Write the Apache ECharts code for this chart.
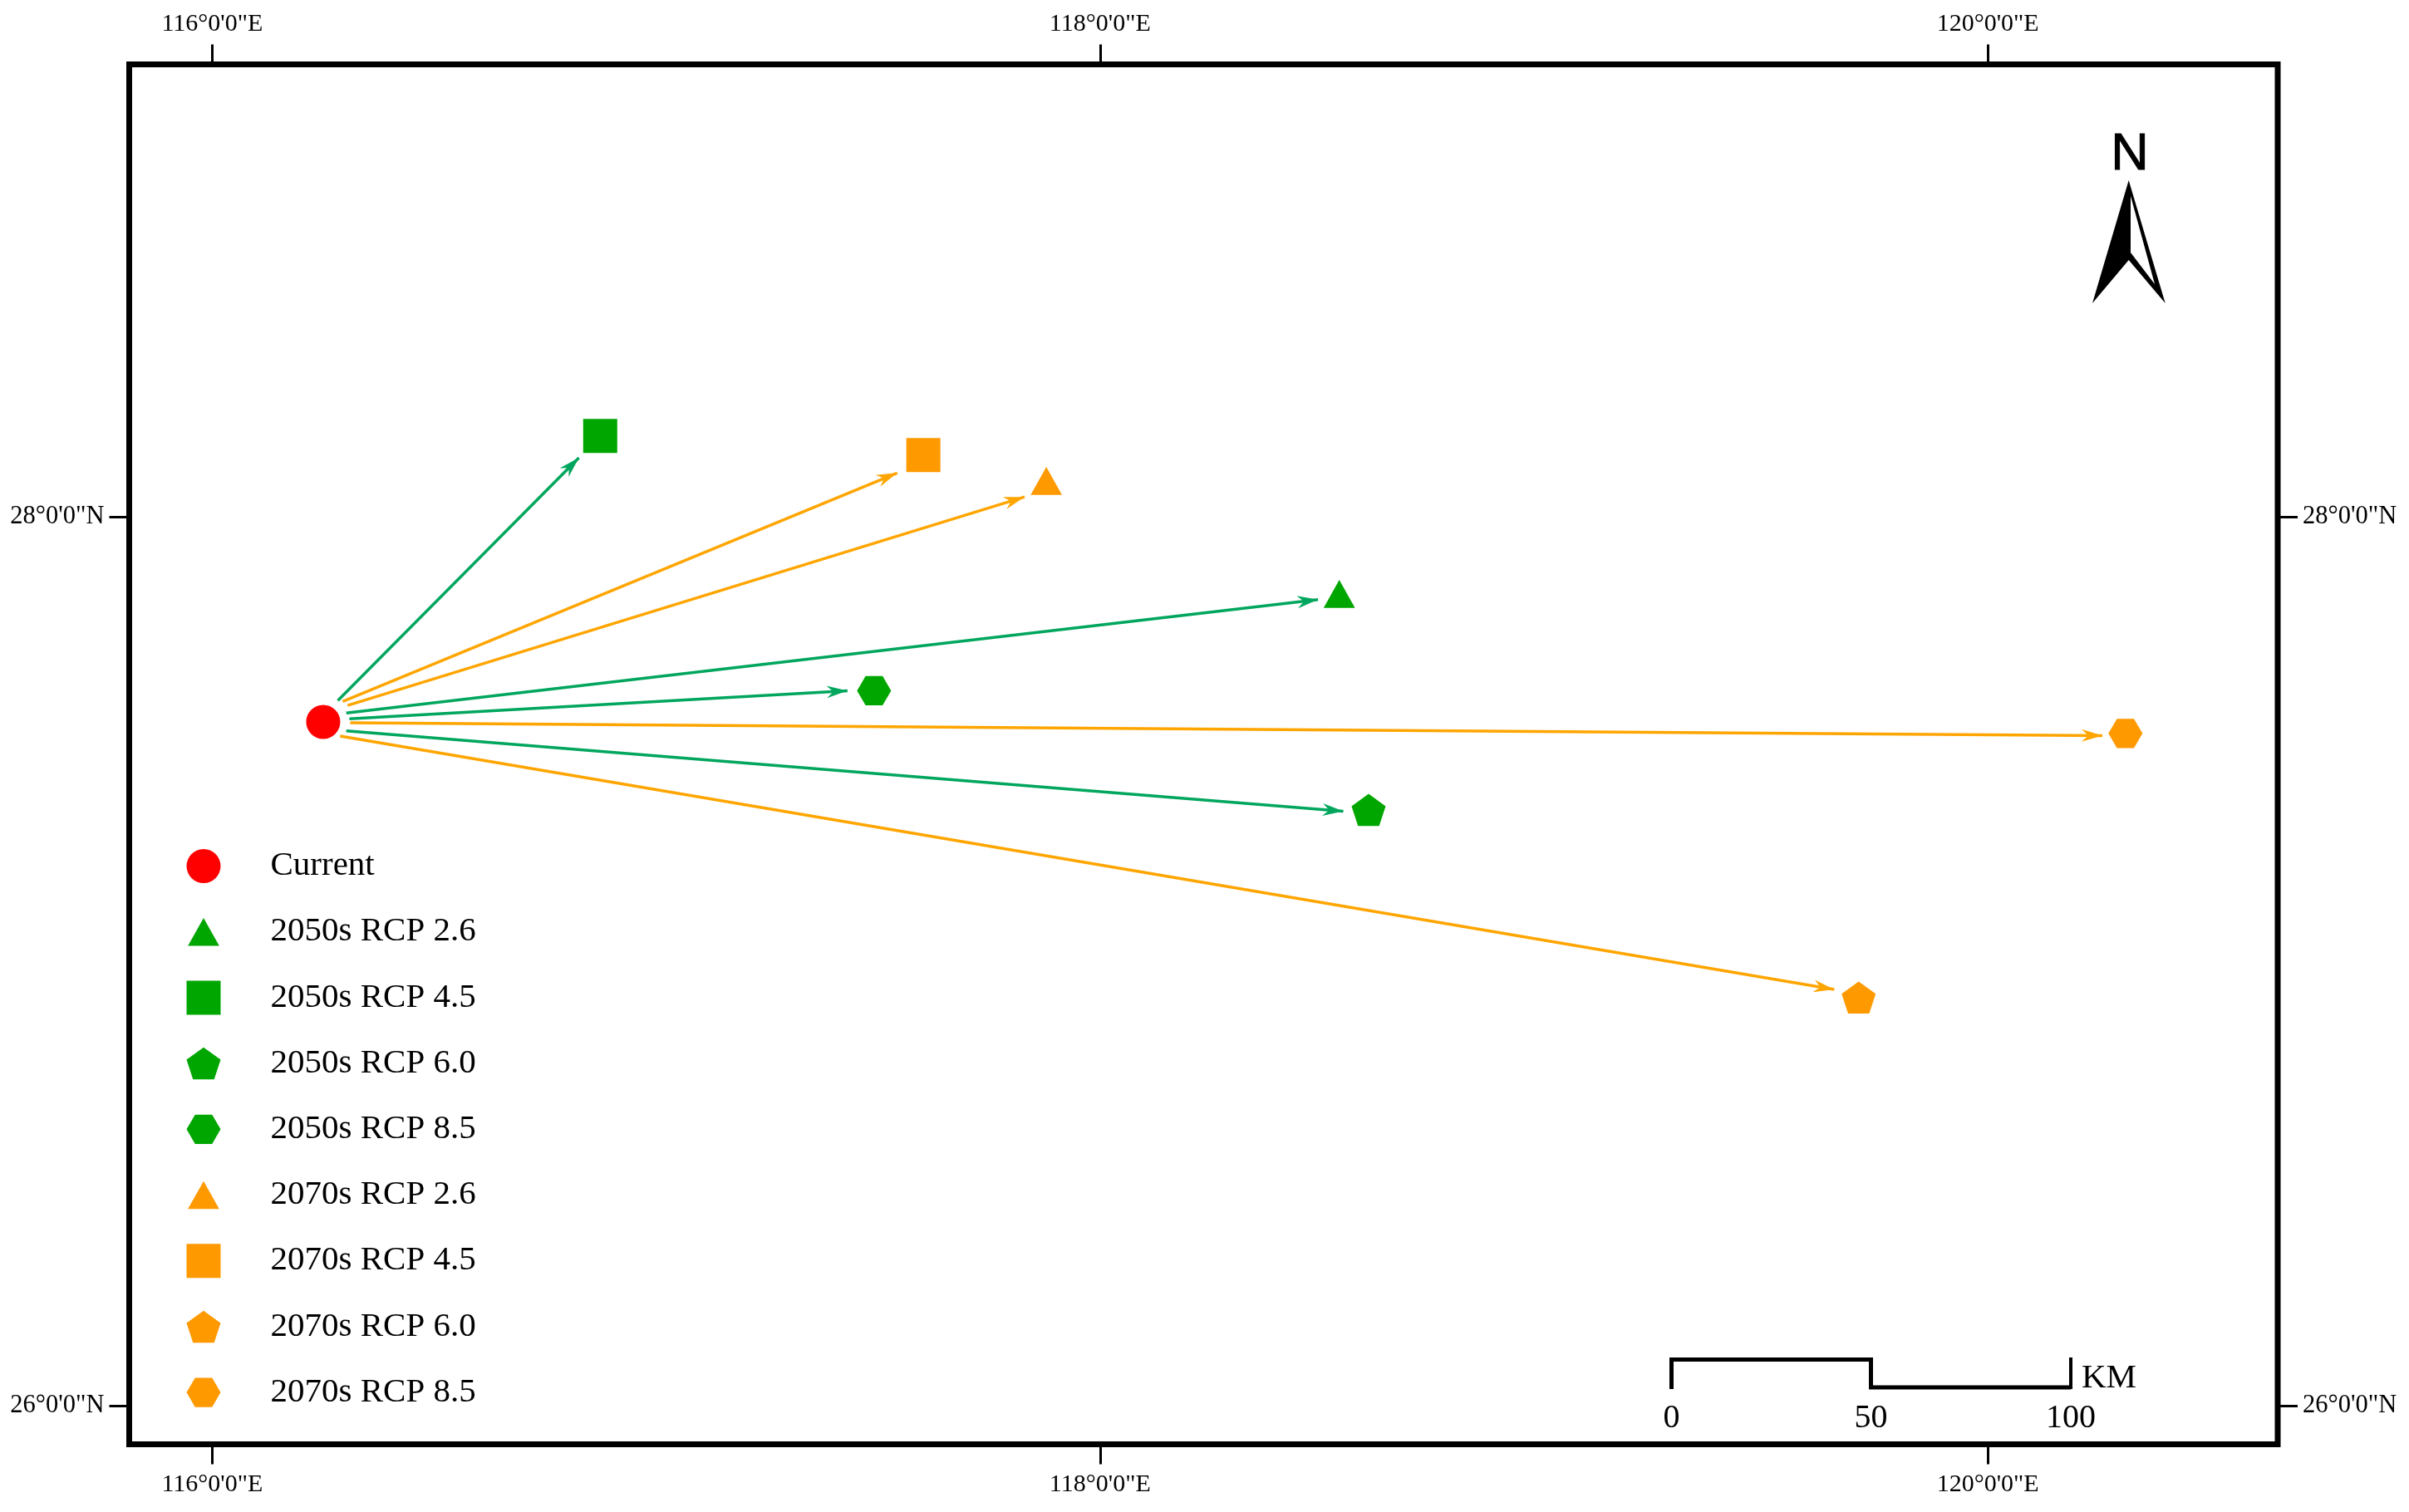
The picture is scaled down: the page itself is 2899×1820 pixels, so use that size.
<!DOCTYPE html>
<html>
<head>
<meta charset="utf-8">
<title>Centroid shift</title>
<style>
    html, body { margin: 0; padding: 0; background: #fff; }
    #main { width: 2899px; height: 1820px; }
</style>
<script src="https://cdn.jsdelivr.net/npm/echarts@6/dist/echarts.min.js"></script>
</head>
<body>
<div id="main"></div>
<script>
// values, in degrees
var scenarios = ['Current', '2050s RCP 2.6', '2050s RCP 4.5', '2050s RCP 6.0', '2050s RCP 8.5',
                 '2070s RCP 2.6', '2070s RCP 4.5', '2070s RCP 6.0', '2070s RCP 8.5'];
var pointLon = [116.250, 118.539, 116.874, 118.605, 117.491, 117.879, 117.602, 119.709, 120.310];
var pointLat = [27.539, 27.827, 28.182, 27.341, 27.609, 28.081, 28.139, 26.919, 27.513];

// arrows do not touch the markers, so both ends are kept. Same order as scenarios, without Current
var arrowFromLon = [116.302, 116.283, 116.302, 116.309, 116.305, 116.294, 116.288, 116.311];
var arrowFromLat = [27.559, 27.587, 27.519, 27.546, 27.576, 27.585, 27.507, 27.537];
var arrowToLon = [118.491, 116.826, 118.548, 117.431, 117.830, 117.543, 119.654, 120.258];
var arrowToLat = [27.814, 28.133, 27.338, 27.609, 28.045, 28.099, 26.937, 27.508];

var lonTicks = [116, 118, 120];
var lonTickLabels = ['116°0\'0"E', '118°0\'0"E', '120°0\'0"E'];
var latTicks = [26, 28];
var latTickLabels = ['26°0\'0"N', '28°0\'0"N'];
var scaleLabels = ['0', '50', '100'];

var GREEN = '#00A600', ORANGE = '#FF9900';
var GREEN_LINE = '#00A65D', ORANGE_LINE = '#FFA500';
var SERIF = '"Liberation Serif", "Times New Roman", serif';

// the M..L pairs only stretch the bounding box so every symbol fills the same 100x100 cell
var BOX = 'M0 0L0 0M100 100L100 100';
var symbols = {
    circle: 'circle',
    triangle: 'path://' + BOX + 'M50 9L96 91L4 91Z',
    square: 'path://' + BOX + 'M0 0L100 0L100 100L0 100Z',
    pentagon: 'path://' + BOX + 'M50 3L100 39L81 97L19 97L0 39Z',
    hexagon: 'path://' + BOX + 'M25 7L75 7L100 50L75 93L25 93L0 50Z'
};
var scenarioSymbols = ['circle', 'triangle', 'square', 'pentagon', 'hexagon', 'triangle', 'square', 'pentagon', 'hexagon'];
var arrowHead = 'path://' + BOX + 'M50 50L65 100L50 84L35 100Z';

function colorOf(i) {
    if (i === 0) return '#FF0000';
    return i <= 4 ? GREEN : ORANGE;
}

function labelFrom(ticks, labels) {
    return function(value) {
        return labels[ticks.indexOf(value)];
    };
}

function lonAxis(position, margin) {
    return {
        type: 'value',
        position: position,
        min: 115.813,
        max: 120.653,
        axisLine: { show: false },
        splitLine: { show: false },
        axisTick: {
            show: true,
            length: 24,
            customValues: lonTicks,
            lineStyle: { color: '#000', width: 3 }
        },
        axisLabel: {
            show: true,
            margin: margin,
            fontFamily: SERIF,
            fontSize: 30,
            color: '#000',
            customValues: lonTicks,
            formatter: labelFrom(lonTicks, lonTickLabels)
        }
    };
}

function latAxis(position, margin) {
    return {
        type: 'value',
        position: position,
        min: 25.914,
        max: 29.018,
        axisLine: { show: false },
        splitLine: { show: false },
        axisTick: {
            show: true,
            length: 24,
            customValues: latTicks,
            lineStyle: { color: '#000', width: 3 }
        },
        axisLabel: {
            show: true,
            margin: margin,
            fontFamily: SERIF,
            fontSize: 30.5,
            color: '#000',
            padding: [3, 0, 0, 0],
            customValues: latTicks,
            formatter: labelFrom(latTicks, latTickLabels)
        }
    };
}

var series = [];
arrowToLon.forEach(function(lon, i) {
    series.push({
        name: 'arrow ' + scenarios[i + 1],
        type: 'lines',
        coordinateSystem: 'cartesian2d',
        polyline: false,
        silent: true,
        symbol: ['none', arrowHead],
        symbolSize: 50,
        lineStyle: { color: i + 1 <= 4 ? GREEN_LINE : ORANGE_LINE, width: 3.5, opacity: 1, curveness: 0 },
        data: [{ coords: [[arrowFromLon[i], arrowFromLat[i]], [lon, arrowToLat[i]]] }]
    });
});
scenarios.forEach(function(name, i) {
    series.push({
        name: name,
        type: 'scatter',
        symbol: symbols[scenarioSymbols[i]],
        symbolSize: 41,
        itemStyle: { color: colorOf(i), opacity: 1 },
        data: [[pointLon[i], pointLat[i]]]
    });
});

var northArrow = [
    { type: 'text', style: { text: 'N', x: 2563, y: 187, align: 'center', verticalAlign: 'middle', font: '63px "Liberation Sans", Arial, sans-serif', fill: '#000', stroke: '#000', lineWidth: 1 } },
    { type: 'polygon', shape: { points: [[2561.7, 217], [2605.7, 365], [2561.7, 313], [2518, 365]] }, style: { fill: '#000' } },
    { type: 'polygon', shape: { points: [[2564, 236], [2593, 342], [2564, 304]] }, style: { fill: '#fff' } }
];

var scaleBar = [
    { type: 'polyline', shape: { points: [[2011.5, 1672], [2011.5, 1636.5], [2251.5, 1636.5], [2251.5, 1670], [2492, 1670]] }, style: { stroke: '#000', lineWidth: 5, fill: null } },
    { type: 'polyline', shape: { points: [[2492, 1634], [2492, 1672]] }, style: { stroke: '#000', lineWidth: 4, fill: null } },
    { type: 'text', style: { text: 'KM', x: 2505, y: 1659, align: 'left', verticalAlign: 'middle', font: '41px ' + SERIF, fill: '#000' } }
];
[2011.5, 2251.5, 2492].forEach(function(x, i) {
    scaleBar.push({ type: 'text', style: { text: scaleLabels[i], x: x, y: 1707, align: 'center', verticalAlign: 'middle', font: '40px ' + SERIF, fill: '#000' } });
});

var option = {
    animation: false,
    backgroundColor: '#fff',
    grid: {
        show: true,
        left: 155.5,
        top: 77.5,
        right: 158,
        bottom: 81.5,
        borderColor: '#000',
        borderWidth: 7,
        backgroundColor: 'transparent'
    },
    xAxis: [lonAxis('bottom', 34), lonAxis('top', 33)],
    yAxis: [latAxis('left', 30), latAxis('right', 30)],
    legend: {
        orient: 'vertical',
        left: 224.5,
        top: 1018,
        padding: 0,
        itemWidth: 41,
        itemHeight: 41,
        itemGap: 30.2,
        selectedMode: false,
        itemStyle: { borderWidth: 0 },
        textStyle: {
            fontFamily: SERIF,
            fontSize: 41,
            color: '#000',
            lineHeight: 41,
            padding: [8, 0, 0, 55]
        },
        data: scenarios.map(function(name, i) {
            return { name: name, icon: symbols[scenarioSymbols[i]] };
        })
    },
    graphic: northArrow.concat(scaleBar),
    series: series
};

var chart = echarts.init(document.getElementById('main'));
chart.setOption(option);

window.onresize = function() {
    chart.resize();
};
</script>
</body>
</html>
